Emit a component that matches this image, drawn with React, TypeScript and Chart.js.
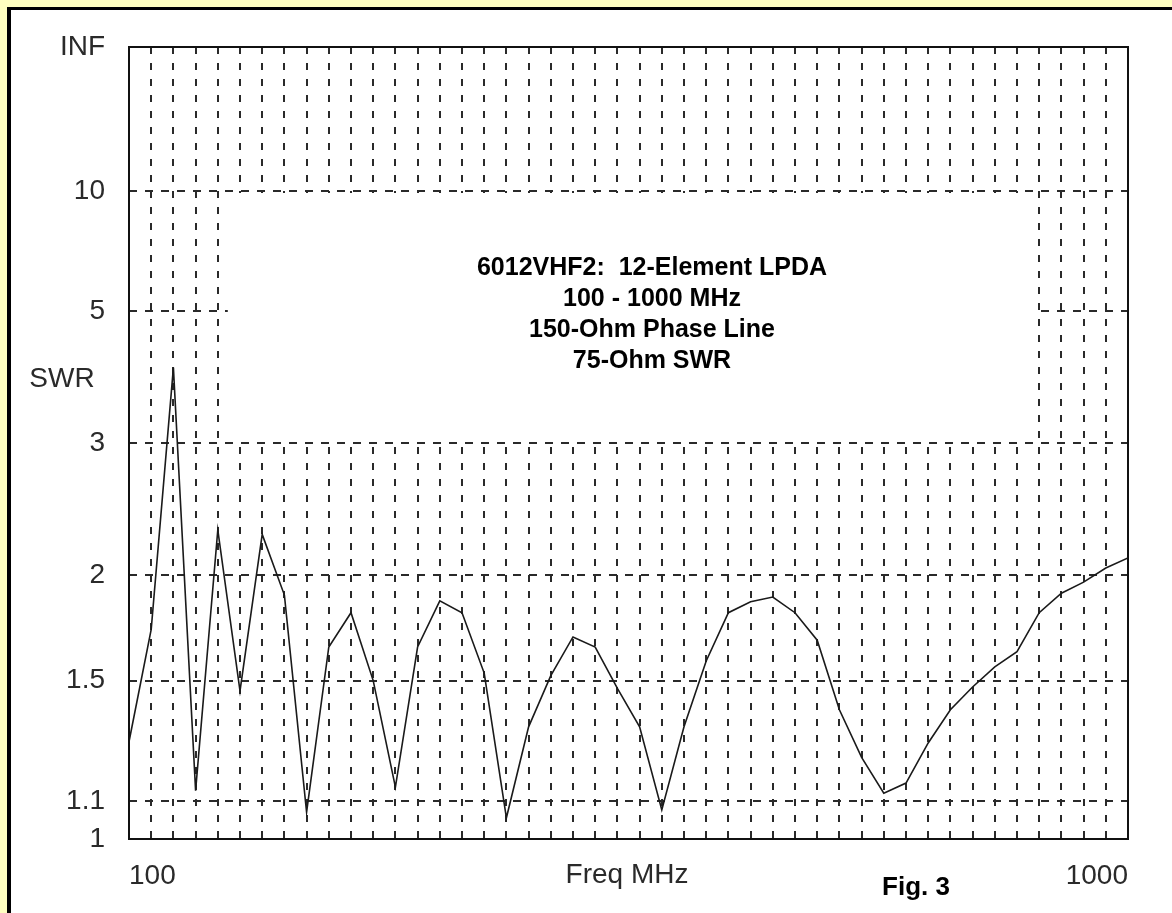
import React, { useEffect, useRef } from 'react';
import { Chart, registerables } from 'chart.js';

Chart.register(...registerables);

// Frequency (MHz) of each computed point
const freqMHz = [
  100, 120, 140, 160, 180, 200, 220, 240, 260, 280,
  300, 320, 340, 360, 380, 400, 420, 440, 460, 480,
  500, 520, 540, 560, 580, 600, 620, 640, 660, 680,
  700, 720, 740, 760, 780, 800, 820, 840, 860, 880,
  900, 920, 940, 960, 980, 1000,
];

// 75-Ohm SWR at each frequency
const swrValues = [
  1.28, 1.72, 3.94, 1.13, 2.28, 1.46, 2.25, 1.89, 1.07, 1.64,
  1.80, 1.50, 1.14, 1.64, 1.86, 1.80, 1.53, 1.055, 1.33, 1.52,
  1.685, 1.64, 1.47, 1.33, 1.076, 1.33, 1.58, 1.80, 1.855, 1.88,
  1.80, 1.67, 1.39, 1.23, 1.123, 1.152, 1.276, 1.39, 1.475, 1.555,
  1.62, 1.80, 1.90, 1.96, 2.04, 2.10,
];

// SWR axis ticks (scale is linear in reflection coefficient)
const swrTickValues = [1, 1.1, 1.5, 2, 3, 5, 10, Infinity];
const swrTickLabels = ['1', '1.1', '1.5', '2', '3', '5', '10', 'INF'];

// Frequency axis labels shown
const freqLabelValues = [100, 1000];

const titleLines = [
  '6012VHF2:  12-Element LPDA',
  '100 - 1000 MHz',
  '150-Ohm Phase Line',
  '75-Ohm SWR',
];
const xAxisTitle = 'Freq MHz';
const yAxisTitle = 'SWR';
const figLabel = 'Fig. 3';

const toRho = (s: number) => (s === Infinity ? 1 : (s - 1) / (s + 1));

const FONT = '"Liberation Sans", Arial, sans-serif';

const decorPlugin = {
  id: 'decor',
  beforeDatasetsDraw(chart: any) {
    const { ctx, scales } = chart;
    const x = scales.x;
    const y = scales.y;
    ctx.save();
    const l = x.getPixelForValue(180) + 10;
    const r = x.getPixelForValue(920) - 4;
    const t = y.getPixelForValue(toRho(10)) + 2;
    const b = y.getPixelForValue(toRho(3)) - 4;
    ctx.fillStyle = '#ffffff';
    ctx.fillRect(l, t, r - l, b - t);
    ctx.fillStyle = '#000';
    ctx.font = 'bold 25px ' + FONT;
    ctx.textAlign = 'center';
    ctx.textBaseline = 'middle';
    titleLines.forEach((s, i) => ctx.fillText(s, 652, 268 + i * 31));
    ctx.restore();
  },
  afterDraw(chart: any) {
    const { ctx, chartArea } = chart;
    ctx.save();
    ctx.strokeStyle = '#111';
    ctx.lineWidth = 2;
    ctx.setLineDash([]);
    ctx.strokeRect(
      chartArea.left,
      chartArea.top,
      chartArea.right - chartArea.left,
      chartArea.bottom - chartArea.top
    );
    ctx.fillStyle = '#2a2a2a';
    ctx.font = '28px ' + FONT;
    ctx.textAlign = 'center';
    ctx.textBaseline = 'middle';
    ctx.fillText(yAxisTitle, 62, 379);
    ctx.fillText(xAxisTitle, 627, 875);
    ctx.fillStyle = '#000';
    ctx.font = 'bold 26px ' + FONT;
    ctx.fillText(figLabel, 916, 888);
    ctx.restore();
  },
};

export default function App() {
  const canvasRef = useRef<HTMLCanvasElement | null>(null);

  useEffect(() => {
    if (!canvasRef.current) return;
    const chart = new Chart(canvasRef.current, {
      type: 'line',
      data: {
        datasets: [
          {
            data: freqMHz.map((f, i) => ({ x: f, y: toRho(swrValues[i]) })),
            borderColor: '#1a1a1a',
            borderWidth: 1.6,
            pointRadius: 0,
            tension: 0,
            fill: false,
          },
        ],
      },
      options: {
        animation: false,
        responsive: false,
        maintainAspectRatio: false,
        events: [],
        layout: { padding: { left: 0, top: 47, right: 44, bottom: 0 } },
        plugins: {
          legend: { display: false },
          tooltip: { enabled: false },
          title: { display: false },
        },
        scales: {
          x: {
            type: 'linear',
            min: 100,
            max: 1000,
            afterFit: (scale: any) => {
              scale.height = 74;
            },
            border: { display: false, dash: [7, 9] },
            grid: {
              color: '#2a2a2a',
              lineWidth: 2,
              drawTicks: false,
            },
            ticks: {
              stepSize: 20,
              autoSkip: false,
              maxRotation: 0,
              minRotation: 0,
              align: 'inner',
              padding: 20,
              color: '#2a2a2a',
              font: { family: FONT, size: 28 },
              callback: (v: any) => (freqLabelValues.includes(Number(v)) ? String(v) : ''),
            },
          },
          y: {
            type: 'linear',
            min: 0,
            max: 1,
            afterFit: (scale: any) => {
              scale.width = 129;
            },
            afterBuildTicks: (scale: any) => {
              scale.ticks = swrTickValues.map((s) => ({ value: toRho(s) }));
            },
            border: { display: false, dash: [8, 8] },
            grid: {
              color: '#2a2a2a',
              lineWidth: 2,
              drawTicks: false,
            },
            ticks: {
              autoSkip: false,
              padding: 24,
              color: '#2a2a2a',
              font: { family: FONT, size: 28 },
              callback: (_v: any, i: number) => swrTickLabels[i],
            },
          },
        },
      } as any,
      plugins: [decorPlugin],
    });
    return () => chart.destroy();
  }, []);

  return (
    <div
      style={{
        position: 'absolute',
        left: 0,
        top: 0,
        width: 1172,
        height: 913,
        background: '#ffffc0',
        overflow: 'hidden',
      }}
    >
      <div
        style={{
          position: 'absolute',
          left: 7,
          top: 7,
          right: 0,
          bottom: 0,
          background: '#ffffff',
          borderLeft: '4px solid #000',
          borderTop: '3px solid #000',
        }}
      />
      <canvas
        ref={canvasRef}
        width={1172}
        height={913}
        style={{ position: 'absolute', left: 0, top: 0, width: 1172, height: 913 }}
      />
    </div>
  );
}
